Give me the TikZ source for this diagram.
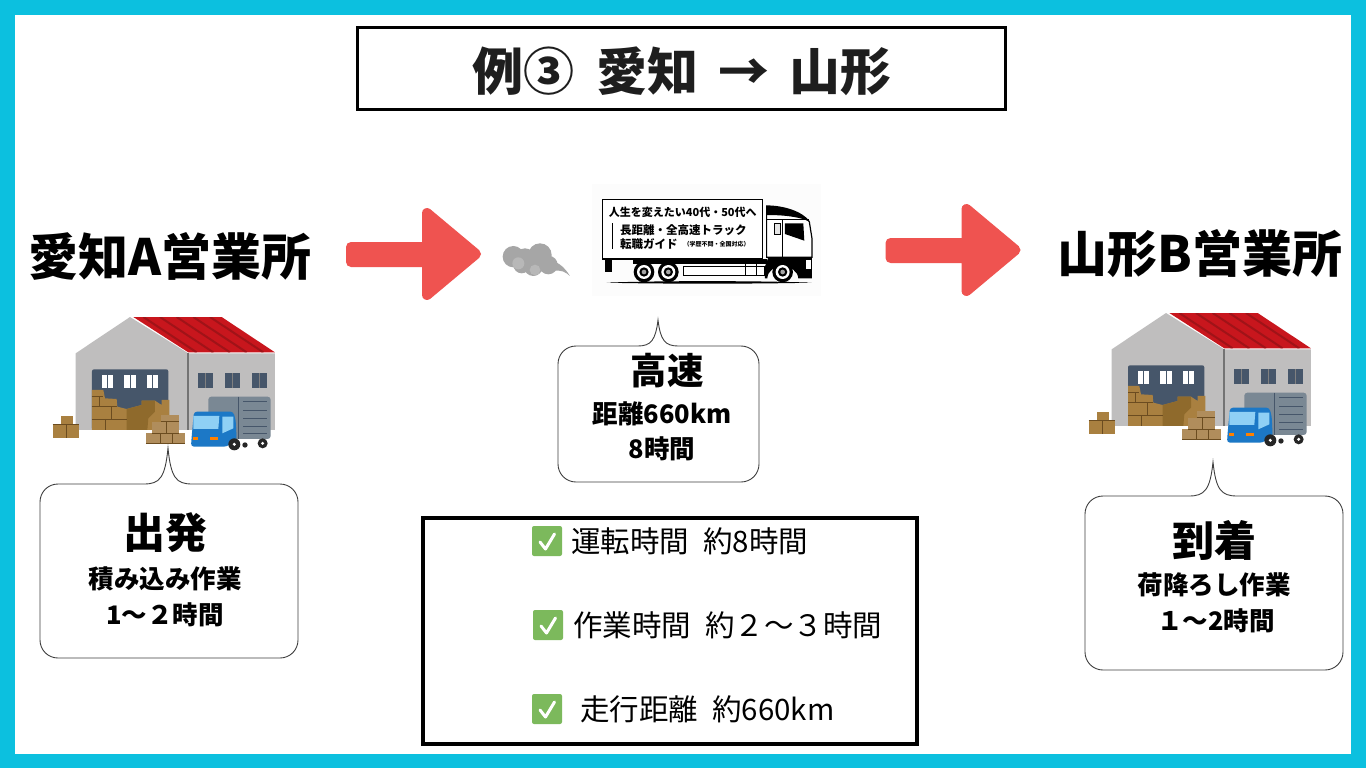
\documentclass[tikz,border=0pt]{standalone}
\usepackage{fontspec}
\setmainfont{Noto Sans CJK JP}
\usetikzlibrary{arrows.meta}
\definecolor{frameblue}{HTML}{0CC0DF}
\definecolor{arrowred}{HTML}{EF5350}
\definecolor{wall}{HTML}{BFBEBE}
\definecolor{slate}{HTML}{46566A}
\definecolor{roofred}{HTML}{C8161D}
\definecolor{roofdark}{HTML}{A01318}
\definecolor{crate}{HTML}{A98040}
\definecolor{cratedk}{HTML}{8F6A2C}
\definecolor{cratelt}{HTML}{B08D5C}
\definecolor{crateln}{HTML}{6B4C20}
\definecolor{okgreen}{HTML}{7CB95C}
\definecolor{ink}{HTML}{1E1E1E}
\definecolor{cargo}{HTML}{7A8894}
\definecolor{cabblue}{HTML}{1C78C6}
\definecolor{cabglass}{HTML}{8FD0F5}
\tikzset{
  bubble/.style={draw=black!75,line width=.9pt,fill=white},
  blockarrow/.style={fill=arrowred,draw=arrowred,line width=10pt,line join=round},
  heading/.style={font=\bfseries\fontsize{50}{54}\selectfont,inner sep=0pt,text=black},
  bubbletitle/.style={font=\bfseries\fontsize{42}{46}\selectfont,inner sep=0pt},
  bubbletext/.style={font=\bfseries\fontsize{25.5}{29}\selectfont,inner sep=0pt},
  listtext/.style={font=\fontsize{29.5}{33}\selectfont,inner sep=0pt,anchor=west},
  trucktext/.style={font=\bfseries\fontsize{11.5}{13}\selectfont,inner sep=0pt,anchor=west},
}
\newcommand{\cratebox}[4]{\fill[cratelt] (#1,#2) rectangle (#3,#4);\draw[crateln,line width=.7pt] (#1,#4) -- (#3,#4);}
% x1 y1 x2 y2 tipx tipy halfbase
\newcommand{\callout}[7]{%
  \draw[bubble] (#1+18,#2) .. controls (#1+8,#2) and (#1,#2+8) .. (#1,#2+18)
    -- (#1,#4-18) .. controls (#1,#4-8) and (#1+8,#4) .. (#1+18,#4)
    -- (#3-18,#4) .. controls (#3-8,#4) and (#3,#4-8) .. (#3,#4-18)
    -- (#3,#2+18) .. controls (#3,#2+8) and (#3-8,#2) .. (#3-18,#2)
    -- (#5+#7,#2) .. controls (#5+#7*.35,#2) and (#5+#7*.12,#2-6) .. (#5,#6)
    .. controls (#5-#7*.12,#2-6) and (#5-#7*.35,#2) .. (#5-#7,#2) -- cycle;
}
\newcommand{\depot}{%
  \fill[wall] (107,145) -- (270,36) -- (445,145) -- (705,145) -- (705,375) -- (107,375) -- cycle;
  \fill[roofred] (280,36) -- (545,36) -- (705,142) -- (445,142) -- cycle;
  \begin{scope}
    \clip (280,36) -- (545,36) -- (705,142) -- (445,142) -- cycle;
    \foreach \d in {0,50,...,300}
      \draw[roofdark,line width=2pt] (310+\d,36) -- (470+\d,142);
  \end{scope}
  \draw[gray!90!black,line width=1.2pt] (444,145) -- (444,375);
  \fill[slate,rounded corners=2pt] (156,375) -- (156,193) -- (385,193) -- (385,375) -- cycle;
  \foreach \wx in {186,253,320} {
    \fill[white] (\wx,210) rectangle +(34,38);
    \draw[slate,line width=.8pt] (\wx+17,210) -- +(0,38);
  }
  \foreach \wx in {475,556,636} {
    \fill[slate] (\wx,205) rectangle +(45,43);
    \draw[gray,line width=.8pt] (\wx+22,205) -- +(0,43);
  }
  \fill[crate] (156,375) -- (156,255) -- (190,255) -- (195,280) -- (230,282) -- (232,305) -- (260,312) -- (305,300) -- (305,287) -- (345,287) -- (365,300) -- (365,285) -- (388,285) -- (388,375) -- cycle;
  \fill[cratedk] (260,312) -- (305,300) -- (305,287) -- (345,287) -- (345,320) -- (325,340) -- (322,375) -- (260,375) -- cycle;
  \draw[crateln,line width=.7pt] (156,275) -- (190,275) (156,305) -- (230,305) (156,342) -- (260,342) (178,275) -- (178,305) (215,305) -- (215,342) (195,342) -- (195,375);
  % left crates
  \fill[crate] (38,358) rectangle (118,398);
  \fill[crate] (62,334) rectangle (98,358);
  \draw[crateln,line width=.7pt] (38,358) -- (118,358) (80,358) -- (80,398);
  % front crates
  \cratebox{318}{385}{434}{416}
  \cratebox{335}{350}{418}{385}
  \cratebox{362}{330}{416}{350}
  \draw[crateln,line width=.7pt] (360,385) -- (360,416) (398,385) -- (398,416) (380,350) -- (380,385);
  % truck
  \fill[cargo,rounded corners=3pt] (505,275) rectangle (692,402);
  \draw[slate,line width=.7pt] (595,275) -- (595,402);
  \foreach \ly in {290,315,340,365,385} \draw[slate,line width=.6pt] (610,\ly) -- (680,\ly);
  \fill[black!85] (668,415) circle (15);
  \fill[white] (668,415) circle (5);
  \fill[black!85] (615,420) circle (8);
  \fill[cabblue,rounded corners=3pt] (462,320) -- (580,320) -- (587,345) -- (590,405) -- (560,425) -- (453,425) -- (455,395) -- cycle;
  \fill[cabglass] (460,333) -- (538,333) -- (535,372) -- (460,372) -- cycle;
  \fill[cabglass] (547,335) -- (580,335) -- (580,370) -- (547,385) -- cycle;
  \fill[orange] (510,396) rectangle (535,406);
  \fill[orange] (460,396) rectangle (475,406);
  \fill[black!85] (583,418) circle (18);
  \fill[white] (583,418) circle (5);
}
\begin{document}
\begin{tikzpicture}[x=1pt,y=-1pt]
\useasboundingbox (0,0) rectangle (1366,768);
\fill[frameblue] (0,0) rectangle (1366,768);
\fill[white] (15,15) rectangle (1351,754);

% title
\draw[line width=3pt] (357.5,27.5) rectangle (1005.5,109.5);
\node[inner sep=0pt,text=ink,font=\bfseries\fontsize{51}{55}\selectfont] (title) at (682,71) {例③\hspace{22pt}愛知\hspace{20pt}→\hspace{20pt}山形};

% headings
\node[heading] (origin) at (170,256) {愛知A営業所};
\node[heading] (dest) at (1200,254) {山形B営業所};

% block arrows
\draw[blockarrow] (351,247) -- (427,247) -- (427,213) -- (476,254) -- (427,295) -- (427,262) -- (351,262) -- cycle;
\draw[blockarrow] (890.5,243) -- (966.5,243) -- (966.5,209) -- (1015.5,250) -- (966.5,291) -- (966.5,258) -- (890.5,258) -- cycle;

% cloud
\begin{scope}[shift={(490,170)},x=.3333pt,y=-.3333pt]
  \fill[black!35] (70,260) circle (32) (105,265) circle (30) (150,255) circle (35) (130,290) circle (28) (175,285) circle (28) (95,285) circle (25);
  \fill[black!35] (195,275) .. controls (215,285) and (225,295) .. (240,318) .. controls (225,305) and (215,300) .. (190,302) -- cycle;
  \fill[black!28] (85,280) circle (18) (135,300) circle (16);
\end{scope}

% truck picture
\fill[black!1] (592,184) rectangle (821,296);
\begin{scope}[shift={(490,170)},x=.3333pt,y=-.3333pt]
  \fill[black] (350,338) .. controls (500,332) and (800,332) .. (965,338) .. controls (800,342) and (500,342) .. (350,338) -- cycle;
  % chassis under the box
  \fill[black] (345,267) rectangle (365,305);
  \fill[black] (430,267) -- (830,267) -- (830,282) -- (430,282) -- cycle;
  \draw[line width=1pt,fill=white] (580,290) rectangle (825,316);
  \draw[line width=.9pt] (765,270) -- (765,316) (800,270) -- (800,316);
  % box
  \draw[line width=1.6pt,fill=white] (337,88) rectangle (817,267);
  \draw[line width=1pt] (368,160) -- (368,238);
  % cab
  \draw[line width=1.2pt,fill=white] (830,262) -- (830,108) .. controls (880,108) and (935,125) .. (958,155) -- (966,205) -- (966,262) -- cycle;
  \fill[black] (830,108) .. controls (880,108) and (935,125) .. (958,155) .. controls (930,140) and (880,135) .. (830,135) -- cycle;
  \draw[line width=1pt] (878,150) -- (878,262) (830,150) -- (958,150);
  \fill[black] (885,160) -- (940,160) -- (943,212) -- (885,192) -- cycle;
  \draw[line width=.7pt,fill=black!10] (853,160) rectangle (871,193);
  % lower cab and wheel arch
  \fill[black] (835,262) -- (966,262) -- (966,325) -- (925,325) .. controls (922,280) and (835,275) .. (832,325) -- (825,325) -- (825,290) -- cycle;
  \fill[white] (948,270) rectangle (962,298);
  % wheels
  \foreach \wx/\wy in {462/306,535/306,878/306} {
    \fill[black] (\wx,\wy) circle (31);
    \fill[white] (\wx,\wy) circle (21);
    \fill[black] (\wx,\wy) circle (14);
    \fill[black!35] (\wx,\wy) circle (7);
  }
  \node[inner sep=0pt,anchor=west,font=\bfseries\fontsize{11}{13}\selectfont] (t1) at (356,128) {人生を変えたい40代・50代へ};
  \node[trucktext] (t2) at (390,180) {長距離・全高速トラック};
  \node[trucktext] (t3) at (390,222) {転職ガイド};
  \node[inner sep=0pt,anchor=west,font=\bfseries\fontsize{6}{7}\selectfont] (t4) at (580,224) {（学歴不問・全国対応）};
\end{scope}

% depots
\begin{scope}[shift={(40,305)},x=.3333pt,y=-.3333pt]\depot\end{scope}
\begin{scope}[shift={(1076,301)},x=.3333pt,y=-.3333pt]\depot\end{scope}

% callouts
\callout{40}{484}{298}{658}{168}{448}{24}
\callout{558}{346}{759}{482}{658}{320}{20}
\callout{1085}{496}{1343}{670}{1213}{462}{24}

\node[bubbletitle] (c1t) at (165,533) {出発};
\node[bubbletext] (c1a) at (165,579) {積み込み作業};
\node[bubbletext] (c1b) at (165,615) {1～２時間};
\node[inner sep=0pt,font=\bfseries\fontsize{36.5}{40}\selectfont] (c2t) at (667,371) {高速};
\node[bubbletext] (c2a) at (662,414) {距離660km};
\node[bubbletext] (c2b) at (662,449) {8時間};
\node[bubbletitle] (c3t) at (1214,540) {到着};
\node[bubbletext] (c3a) at (1214,585) {荷降ろし作業};
\node[bubbletext] (c3b) at (1216,621) {１～2時間};

% list box
\draw[line width=4pt] (423,518) rectangle (917,744);
\foreach \cx/\cy in {532/526,533/610,532/694} {
  \fill[okgreen,rounded corners=2pt] (\cx,\cy) rectangle +(30,30);
  \draw[white,line width=3pt,line cap=round,line join=round] (\cx+8,\cy+16) -- (\cx+13.5,\cy+23) -- (\cx+22.5,\cy+8);
}
\node[listtext] (l1) at (571,541) {運転時間\hspace{14pt}約8時間};
\node[listtext] (l2) at (573,625) {作業時間\hspace{14pt}約２～３時間};
\node[listtext] (l3) at (580,709) {走行距離\hspace{14pt}約660km};
\end{tikzpicture}
\end{document}
